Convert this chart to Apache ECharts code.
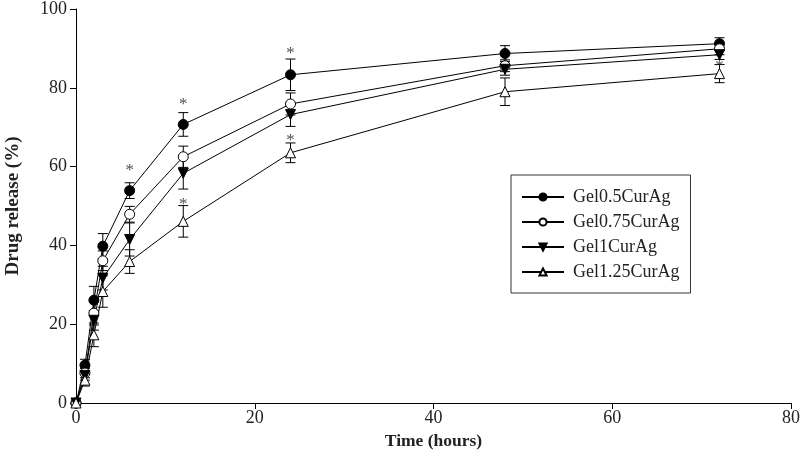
<!DOCTYPE html>
<html>
<head>
<meta charset="utf-8">
<script src="https://cdn.jsdelivr.net/npm/echarts@6/dist/echarts.min.js"></script>
<style>html,body{margin:0;padding:0;background:#fff}#c{width:800px;height:457px}</style>
</head>
<body>
<div id="c"></div>
<script>
const times = [0, 1, 2, 3, 6, 12, 24, 48, 72];
const seriesNames = ['Gel0.5CurAg', 'Gel0.75CurAg', 'Gel1CurAg', 'Gel1.25CurAg'];
const gel05 = [0, 9.6, 26.1, 39.8, 53.9, 70.7, 83.3, 88.7, 91.2];
const gel075 = [0, 7.6, 22.8, 36.1, 47.9, 62.5, 75.9, 85.6, 89.9];
const gel1 = [0, 7.0, 21.0, 31.7, 41.5, 58.3, 73.2, 84.7, 88.4];
const gel125 = [0, 5.8, 17.3, 28.3, 35.9, 46.1, 63.5, 79.0, 83.6];
const err05 = [0, 1.5, 3.5, 3.2, 2.0, 3.0, 4.0, 2.0, 1.5];
const err075 = [0, 1.2, 3.0, 2.5, 2.0, 2.7, 2.8, 1.5, 1.5];
const err1 = [0, 1.2, 2.5, 3.0, 4.2, 4.0, 3.0, 1.5, 1.2];
const err125 = [0, 1.5, 3.0, 4.0, 3.0, 4.0, 2.5, 3.5, 2.3];
const starTimes05 = [6, 12, 24];
const starVals05 = [60.0, 76.7, 89.6];
const starTimes125 = [12, 24, 72];
const starVals125 = [51.5, 67.6, 86.3];

const values = [gel05, gel075, gel1, gel125];
const errs = [err05, err075, err1, err125];
const symbols = ['circle', 'circle', 'path://M0,0 L10,0 L5,9 Z', 'path://M5,0 L10,9 L0,9 Z'];
const fills = ['#000', '#fff', '#000', '#fff'];
const sizes = [10, 10, 10, 10];

const serif = '"Liberation Serif", "Times New Roman", serif';

const series = [];
values.forEach((vals, i) => {
  series.push({
    name: seriesNames[i] + '_err',
    type: 'custom',
    silent: true,
    z: 1,
    data: times.map((t, k) => [t, vals[k], errs[i][k]]),
    renderItem: function (params, api) {
      const x = api.value(0), y = api.value(1), e = api.value(2);
      if (!e) return null;
      const top = api.coord([x, y + e]);
      const bot = api.coord([x, y - e]);
      const hw = 5;
      const st = { stroke: '#000', lineWidth: 1 };
      return {
        type: 'group',
        children: [
          { type: 'line', shape: { x1: top[0], y1: top[1], x2: bot[0], y2: bot[1] }, style: st },
          { type: 'line', shape: { x1: top[0] - hw, y1: top[1], x2: top[0] + hw, y2: top[1] }, style: st },
          { type: 'line', shape: { x1: bot[0] - hw, y1: bot[1], x2: bot[0] + hw, y2: bot[1] }, style: st }
        ]
      };
    }
  });
});
values.forEach((vals, i) => {
  series.push({
    name: seriesNames[i],
    type: 'line',
    z: 3,
    data: times.map((t, k) => [t, vals[k]]),
    symbol: symbols[i],
    symbolSize: sizes[i],
    showAllSymbol: true,
    lineStyle: { color: '#000', width: 1 },
    itemStyle: { color: fills[i], borderColor: '#000', borderWidth: 1 },
    emphasis: { disabled: true },
    animation: false
  });
});
function starSeries(ts, vs) {
  return {
    type: 'scatter',
    symbolSize: 1,
    itemStyle: { color: 'rgba(0,0,0,0)' },
    data: ts.map((t, k) => [t, vs[k]]),
    label: { show: true, position: 'inside', formatter: '*', color: '#222', fontFamily: serif, fontSize: 17, offset: [0, 4] },
    silent: true,
    z: 4
  };
}
series.push(starSeries(starTimes05, starVals05));
series.push(starSeries(starTimes125, starVals125));

const chart = echarts.init(document.getElementById('c'), null, { renderer: 'canvas' });
chart.setOption({
  animation: false,
  backgroundColor: '#fff',
  grid: { left: 76, right: 9, top: 9, bottom: 54, containLabel: false, outerBoundsMode: 'none' },
  legend: {
    data: seriesNames,
    orient: 'vertical',
    left: 511,
    top: 175,
    padding: [13, 11, 12, 10],
    itemGap: 7,
    itemWidth: 42,
    itemHeight: 9,
    borderColor: '#333',
    borderWidth: 1,
    textStyle: { fontFamily: serif, fontSize: 18, color: '#222', padding: [2, 0, 0, 4] },
    selectedMode: false
  },
  xAxis: {
    type: 'value',
    min: 0, max: 80, interval: 20,
    name: 'Time (hours)',
    nameLocation: 'middle',
    nameGap: 29,
    nameTextStyle: { fontFamily: serif, fontSize: 17.5, fontWeight: 'bold', color: '#222' },
    axisLine: { show: true, lineStyle: { color: '#000', width: 1 } },
    axisTick: { show: true, inside: false, length: 6, lineStyle: { color: '#000' } },
    axisLabel: { fontFamily: serif, fontSize: 18, color: '#222', margin: 6 },
    splitLine: { show: false }
  },
  yAxis: {
    type: 'value',
    min: 0, max: 100, interval: 20,
    name: 'Drug release (%)',
    nameLocation: 'middle',
    nameGap: 53,
    nameTextStyle: { fontFamily: serif, fontSize: 19, fontWeight: 'bold', color: '#222' },
    axisLine: { show: true, lineStyle: { color: '#000', width: 1 } },
    axisTick: { show: true, inside: false, length: 6, lineStyle: { color: '#000' } },
    axisLabel: { fontFamily: serif, fontSize: 18, color: '#222', margin: 9 },
    splitLine: { show: false }
  },
  series: series
});
</script>
</body>
</html>
